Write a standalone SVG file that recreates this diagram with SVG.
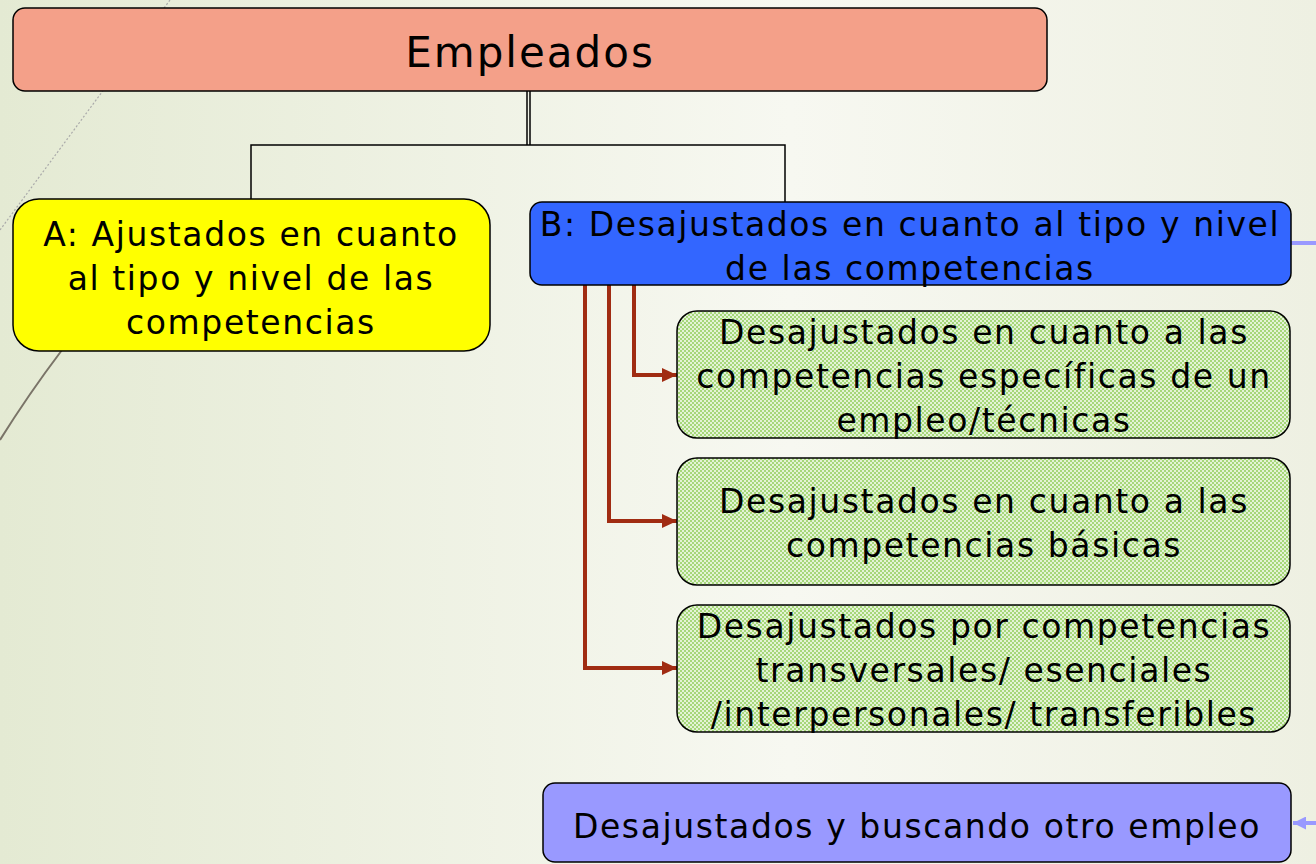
<svg xmlns="http://www.w3.org/2000/svg" width="1316" height="864" viewBox="0 0 1316 864">
<defs>
<linearGradient id="bg" x1="0" y1="0" x2="1" y2="0">
<stop offset="0" stop-color="#e4ead3"/>
<stop offset="0.6" stop-color="#f7f8f1"/>
<stop offset="1" stop-color="#eef0e2"/>
</linearGradient>
<pattern id="chk" width="4" height="4" patternUnits="userSpaceOnUse">
<rect width="4" height="4" fill="#a6d77a"/>
<rect width="2" height="2" fill="#e4f3d6"/>
<rect x="2" y="2" width="2" height="2" fill="#e4f3d6"/>
</pattern>
<marker id="ar" viewBox="0 0 15 14" refX="15" refY="7" markerWidth="15" markerHeight="14" markerUnits="userSpaceOnUse" orient="auto">
<path d="M0,0 L15,7 L0,14 z" fill="#a02c12"/>
</marker>
<marker id="ap" viewBox="0 0 10 10" refX="0" refY="5" markerWidth="13" markerHeight="13" markerUnits="userSpaceOnUse" orient="auto">
<path d="M0,5 L10,0 L10,10 z" fill="#9999ff"/>
</marker>
</defs>
<style>
.t{font-family:"DejaVu Sans","Liberation Sans",sans-serif;fill:#000;text-anchor:middle;font-size:33px;letter-spacing:1.6px}
.box{stroke:#000;stroke-width:1.5}
.blk{fill:none;stroke:#000;stroke-width:1.5}
.red{fill:none;stroke:#a02c12;stroke-width:4}
</style>
<rect width="1316" height="864" fill="url(#bg)"/>
<path d="M170,0 L0,230" stroke="#aaa" stroke-width="1.2" stroke-dasharray="2,2" fill="none"/>
<path d="M62,350 Q28,395 0,440" stroke="#7a7468" stroke-width="2" fill="none"/>

<g id="connectors">
<line x1="527" y1="91" x2="527" y2="145" class="blk"/>
<line x1="530" y1="91" x2="530" y2="145" class="blk"/>
<path d="M251,199 V145 H785 V202" class="blk"/>
<path d="M585,285 V668 H677" class="red" marker-end="url(#ar)"/>
<path d="M609,285 V521 H677" class="red" marker-end="url(#ar)"/>
<path d="M634,285 V375 H677" class="red" marker-end="url(#ar)"/>
<line x1="1291" y1="243" x2="1316" y2="243" stroke="#9999ff" stroke-width="4"/>
<line x1="1293" y1="823" x2="1316" y2="823" stroke="#9999ff" stroke-width="4" marker-start="url(#ap)"/>
</g>

<g id="empleados">
<rect x="13" y="8" width="1034" height="83" rx="12" fill="#f4a089" class="box"/>
<text x="530" y="67" class="t" style="font-size:42px;letter-spacing:2px">Empleados</text>
</g>
<g id="nodeA">
<rect x="13" y="199" width="477" height="152" rx="26" fill="#ffff00" class="box"/>
<text class="t"><tspan x="251" y="246">A: Ajustados en cuanto</tspan><tspan x="251" y="290">al tipo y nivel de las</tspan><tspan x="251" y="334">competencias</tspan></text>
</g>
<g id="nodeB">
<rect x="530" y="202" width="761" height="83" rx="12" fill="#3366ff" class="box"/>
<text class="t"><tspan x="910" y="236">B: Desajustados en cuanto al tipo y nivel</tspan><tspan x="910" y="280">de las competencias</tspan></text>
</g>
<g id="nodeB1">
<rect x="677" y="311" width="613" height="127" rx="20" fill="url(#chk)" class="box"/>
<text class="t"><tspan x="984" y="344">Desajustados en cuanto a las</tspan><tspan x="984" y="388">competencias específicas de un</tspan><tspan x="984" y="432">empleo/técnicas</tspan></text>
</g>
<g id="nodeB2">
<rect x="677" y="458" width="613" height="127" rx="20" fill="url(#chk)" class="box"/>
<text class="t"><tspan x="984" y="513">Desajustados en cuanto a las</tspan><tspan x="984" y="557">competencias básicas</tspan></text>
</g>
<g id="nodeB3">
<rect x="677" y="605" width="613" height="127" rx="20" fill="url(#chk)" class="box"/>
<text class="t"><tspan x="984" y="638">Desajustados por competencias</tspan><tspan x="984" y="682">transversales/ esenciales</tspan><tspan x="984" y="726">/interpersonales/ transferibles</tspan></text>
</g>
<g id="nodeC">
<rect x="543" y="783" width="748" height="79" rx="12" fill="#9999ff" class="box"/>
<text x="917" y="838" class="t">Desajustados y buscando otro empleo</text>
</g>
</svg>
